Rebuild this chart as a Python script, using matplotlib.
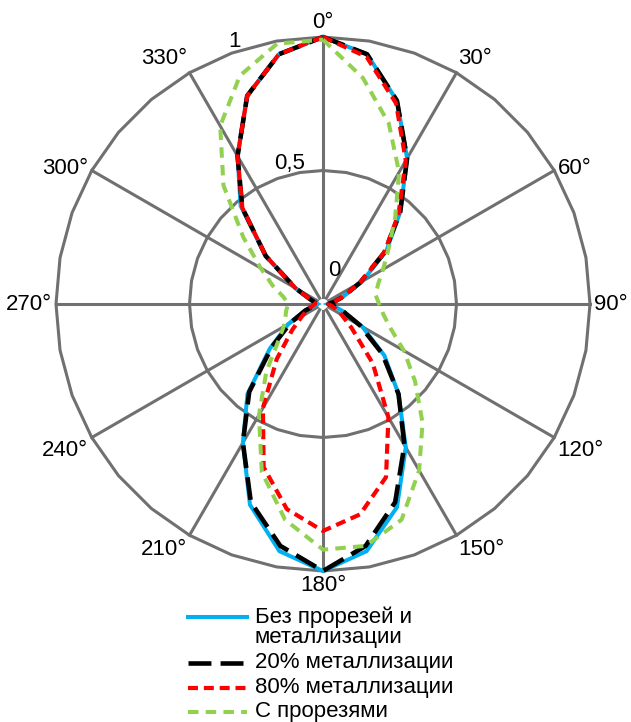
import numpy as np
import matplotlib
matplotlib.use("Agg")
import matplotlib.pyplot as plt
from matplotlib.lines import Line2D

plt.rcParams['font.family'] = ['Liberation Sans', 'DejaVu Sans']

# --- данные (угол, град; нормированная амплитуда) ---
angles_deg = list(range(0, 360, 10))

no_cuts = [1.00, 0.95, 0.81, 0.63, 0.45, 0.31, 0.17, 0.08, 0.04, 0.02,
           0.04, 0.08, 0.17, 0.30, 0.44, 0.62, 0.81, 0.94, 1.00,
           0.94, 0.80, 0.60, 0.44, 0.26, 0.15, 0.07, 0.03, 0.02,
           0.03, 0.05, 0.12, 0.28, 0.48, 0.64, 0.83, 0.95]

metal_20 = [1.00, 0.95, 0.81, 0.63, 0.45, 0.30, 0.16, 0.08, 0.04, 0.02,
            0.04, 0.08, 0.16, 0.29, 0.44, 0.61, 0.79, 0.92, 1.00,
            0.92, 0.79, 0.60, 0.43, 0.25, 0.14, 0.07, 0.03, 0.02,
            0.03, 0.05, 0.12, 0.28, 0.47, 0.64, 0.83, 0.95]

metal_80 = [1.00, 0.94, 0.80, 0.62, 0.44, 0.30, 0.16, 0.08, 0.04, 0.02,
            0.03, 0.05, 0.08, 0.14, 0.29, 0.49, 0.69, 0.80, 0.85,
            0.78, 0.65, 0.45, 0.27, 0.15, 0.09, 0.06, 0.04, 0.03,
            0.03, 0.05, 0.12, 0.28, 0.47, 0.64, 0.83, 0.95]

with_cuts = [0.99, 0.86, 0.72, 0.57, 0.42, 0.32, 0.26, 0.22, 0.20, 0.21,
             0.23, 0.27, 0.35, 0.45, 0.58, 0.72, 0.86, 0.92, 0.92,
             0.82, 0.67, 0.48, 0.33, 0.22, 0.17, 0.15, 0.14, 0.13,
             0.15, 0.20, 0.27, 0.39, 0.58, 0.77, 0.91, 0.99]

labels = ['Без прорезей и\nметаллизации', '20% металлизации',
          '80% металлизации', 'С прорезями']

tick_angles = list(range(0, 360, 30))
radial_ticks = [0, 0.5, 1]
radial_labels = ['0', '0,5', '1']

# --- стиль ---
GRID = '#707070'
colors = ['#00B0F0', '#000000', '#FF0000', '#92D050']
widths = [2.9, 3.3, 3.0, 2.9]
dashes = [None, (5, 2.0), (2.4, 1.4), (2.6, 1.8)]

W, H = 631, 722
fig = plt.figure(figsize=(W / 100, H / 100), dpi=100)
cx, cy, R = 323, 304, 267
ax = fig.add_axes([(cx - R) / W, 1 - (cy + R) / H, 2 * R / W, 2 * R / H],
                  projection='polar')
ax.set_theta_zero_location('N')
ax.set_theta_direction(-1)
ax.set_ylim(0, 1)
ax.grid(False)
ax.set_xticks([])
ax.set_yticks([])
ax.spines['polar'].set_visible(False)
ax.patch.set_alpha(0)

th = np.deg2rad(angles_deg + [angles_deg[0]])

# многоугольная сетка
for r in radial_ticks[1:]:
    ax.plot(th, [r] * len(th), color=GRID, lw=2.2, zorder=1, clip_on=False)
for a in tick_angles:
    t = np.deg2rad(a)
    ax.plot([t, t], [0.025, 1], color=GRID, lw=2.2, zorder=1, clip_on=False)

# кривые
series = [no_cuts, metal_20, metal_80, with_cuts]
for vals, c, lw, d in zip(series, colors, widths, dashes):
    line, = ax.plot(th, vals + [vals[0]], color=c, lw=lw, zorder=3,
                    clip_on=False, solid_joinstyle='miter')
    if d is not None:
        line.set_dashes(d)

# подписи углов
for a in tick_angles:
    s, c = np.sin(np.deg2rad(a)), np.cos(np.deg2rad(a))
    ha = 'left' if s > 0.01 else ('right' if s < -0.01 else 'center')
    if c > 0.7:
        va = 'bottom'
    elif c < -0.1:
        va = 'top'
    else:
        va = 'center'
    ax.text(np.deg2rad(a), 1.015, f'{a}°', ha=ha, va=va, fontsize=16,
            clip_on=False)

# подписи радиальной оси
rad_pos = [(18.2, 0.132), (-13.2, 0.542), (-18.7, 1.038)]
for (a, r), txt in zip(rad_pos, radial_labels):
    ax.text(np.deg2rad(a), r, txt, ha='center', va='center', fontsize=16)

# легенда
leg_rows = [617, 663, 688, 712]
for y, c, lw, d, lab in zip(leg_rows, colors, widths, dashes, labels):
    ln = Line2D([188 / W, 247 / W], [1 - y / H, 1 - y / H], color=c, lw=lw,
                transform=fig.transFigure)
    if d is not None:
        ln.set_dashes(d)
    fig.add_artist(ln)
    fig.text(255 / W, 1 - (y - 11) / H, lab, ha='left', va='top',
             fontsize=16, linespacing=1.0)

fig.savefig('out.png', dpi=100)
